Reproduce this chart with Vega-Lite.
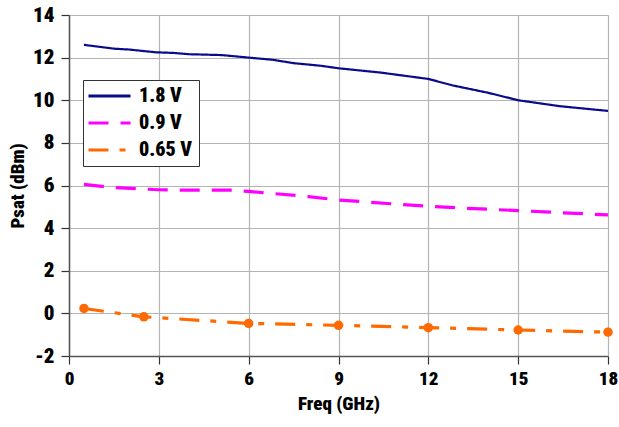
{
  "$schema": "https://vega.github.io/schema/vega-lite/v6.json",
  "width": 539,
  "height": 341,
  "autosize": {"type": "none"},
  "padding": {"left": 69, "top": 15, "right": 11, "bottom": 71},
  "background": "white",
  "config": {
    "font": "Roboto Condensed, Roboto, sans-serif",
    "view": {"stroke": null},
    "axis": {
      "labelFont": "Roboto Condensed, Roboto, sans-serif",
      "titleFont": "Roboto Condensed, Roboto, sans-serif",
      "labelFontWeight": 900,
      "titleFontWeight": 900,
      "labelFontSize": 21,
      "titleFontSize": 19,
      "labelColor": "black",
      "titleColor": "black",
      "gridColor": "#b4b4b4",
      "gridWidth": 1.2,
      "domainColor": "#555555",
      "domainWidth": 1.5,
      "tickColor": "#333333",
      "tickSize": 8,
      "tickWidth": 1.2
    }
  },
  "data": {
    "values": [
      {"freq": 0.5, "psat": 12.6, "series": "1.8 V"},
      {"freq": 1.5, "psat": 12.42, "series": "1.8 V"},
      {"freq": 2.0, "psat": 12.38, "series": "1.8 V"},
      {"freq": 2.9, "psat": 12.25, "series": "1.8 V"},
      {"freq": 3.5, "psat": 12.22, "series": "1.8 V"},
      {"freq": 4.0, "psat": 12.16, "series": "1.8 V"},
      {"freq": 5.1, "psat": 12.12, "series": "1.8 V"},
      {"freq": 6.0, "psat": 12.0, "series": "1.8 V"},
      {"freq": 6.8, "psat": 11.9, "series": "1.8 V"},
      {"freq": 7.5, "psat": 11.74, "series": "1.8 V"},
      {"freq": 8.4, "psat": 11.62, "series": "1.8 V"},
      {"freq": 9.0, "psat": 11.5, "series": "1.8 V"},
      {"freq": 10.4, "psat": 11.3, "series": "1.8 V"},
      {"freq": 12.0, "psat": 11.0, "series": "1.8 V"},
      {"freq": 12.8, "psat": 10.7, "series": "1.8 V"},
      {"freq": 14.0, "psat": 10.35, "series": "1.8 V"},
      {"freq": 15.0, "psat": 10.0, "series": "1.8 V"},
      {"freq": 16.4, "psat": 9.72, "series": "1.8 V"},
      {"freq": 18.0, "psat": 9.5, "series": "1.8 V"},
      {"freq": 0.5, "psat": 6.05, "series": "0.9 V"},
      {"freq": 1.5, "psat": 5.9, "series": "0.9 V"},
      {"freq": 3.0, "psat": 5.8, "series": "0.9 V"},
      {"freq": 4.0, "psat": 5.78, "series": "0.9 V"},
      {"freq": 5.5, "psat": 5.78, "series": "0.9 V"},
      {"freq": 6.0, "psat": 5.72, "series": "0.9 V"},
      {"freq": 7.0, "psat": 5.6, "series": "0.9 V"},
      {"freq": 8.0, "psat": 5.48, "series": "0.9 V"},
      {"freq": 9.0, "psat": 5.32, "series": "0.9 V"},
      {"freq": 10.0, "psat": 5.22, "series": "0.9 V"},
      {"freq": 11.0, "psat": 5.12, "series": "0.9 V"},
      {"freq": 12.0, "psat": 5.03, "series": "0.9 V"},
      {"freq": 13.0, "psat": 4.95, "series": "0.9 V"},
      {"freq": 15.0, "psat": 4.82, "series": "0.9 V"},
      {"freq": 16.5, "psat": 4.72, "series": "0.9 V"},
      {"freq": 18.0, "psat": 4.62, "series": "0.9 V"},
      {"freq": 0.5, "psat": 0.23, "series": "0.65 V"},
      {"freq": 2.5, "psat": -0.16, "series": "0.65 V"},
      {"freq": 6.0, "psat": -0.47, "series": "0.65 V"},
      {"freq": 9.0, "psat": -0.56, "series": "0.65 V"},
      {"freq": 12.0, "psat": -0.67, "series": "0.65 V"},
      {"freq": 15.0, "psat": -0.78, "series": "0.65 V"},
      {"freq": 18.0, "psat": -0.88, "series": "0.65 V"}
    ]
  },
  "encoding": {
    "x": {
      "field": "freq",
      "type": "quantitative",
      "title": "Freq (GHz)",
      "scale": {"domain": [0, 18], "nice": false, "zero": false},
      "axis": {"values": [0, 3, 6, 9, 12, 15, 18], "labelFontSize": 19, "labelPadding": 5, "titlePadding": 6, "labelFlush": false}
    },
    "y": {
      "field": "psat",
      "type": "quantitative",
      "title": "Psat (dBm)",
      "scale": {"domain": [-2, 14], "nice": false, "zero": false},
      "axis": {"values": [-2, 0, 2, 4, 6, 8, 10, 12, 14], "labelExpr": "'' + datum.value", "labelPadding": 7, "titleX": -42, "labelFlush": false}
    }
  },
  "layer": [
    {
      "mark": {"type": "line", "strokeCap": "butt"},
      "encoding": {
        "color": {
          "field": "series",
          "type": "nominal",
          "scale": {"domain": ["1.8 V", "0.9 V", "0.65 V"], "range": ["#0a0a8c", "#ff00ff", "#ff6a00"]},
          "legend": {
            "title": null,
            "orient": "none",
            "legendX": 14,
            "legendY": 65,
            "labelFontSize": 20,
            "labelFontWeight": 900,
            "labelColor": "black",
            "labelFont": "Roboto Condensed, Roboto, sans-serif",
            "symbolType": "M-1.5,0H4.5",
            "symbolSize": 196,
            "symbolStrokeWidth": 3,
            "padding": 6,
            "rowPadding": 7,
            "labelOffset": 30,
            "strokeColor": "#333333",
            "fillColor": "white",
            "cornerRadius": 0
          }
        },
        "strokeDash": {
          "field": "series",
          "type": "nominal",
          "scale": {"domain": ["1.8 V", "0.9 V", "0.65 V"], "range": [[1, 0], [20, 12], [20, 11, 6, 11]]}
        },
        "strokeWidth": {
          "condition": {"test": "datum.series === '1.8 V'", "value": 2.2},
          "value": 3.2
        },
        "order": {"field": "freq", "type": "quantitative"}
      }
    },
    {
      "transform": [{"filter": "datum.series === '0.65 V'"}],
      "mark": {"type": "point", "filled": true, "size": 90, "color": "#ff6a00", "opacity": 1}
    }
  ]
}
